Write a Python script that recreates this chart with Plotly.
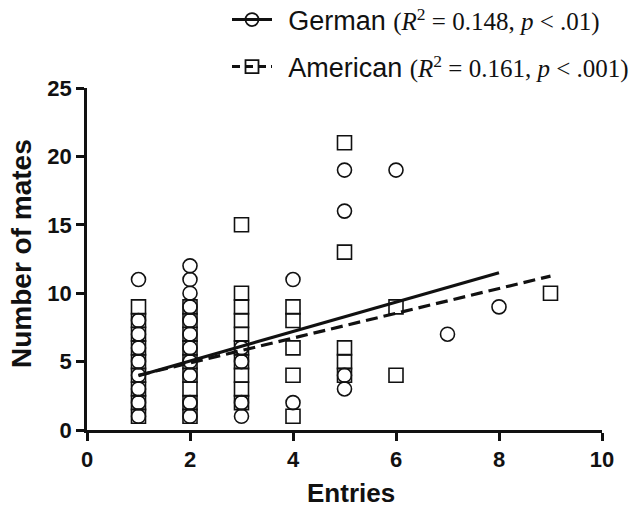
import plotly.graph_objects as go

# ---- data ----
german_entries = [1]*9 + [2]*11 + [3]*4 + [4]*2 + [5]*4 + [6, 7, 8]
german_mates = [1, 2, 3, 4, 5, 6, 7, 8, 11,
                1, 2, 4, 5, 6, 7, 8, 9, 10, 11, 12,
                1, 2, 5, 6,
                2, 11,
                3, 4, 16, 19,
                19, 7, 9]

american_entries = [1]*9 + [2]*9 + [3]*10 + [4]*5 + [5]*5 + [6]*2 + [9]
american_mates = [1, 2, 3, 4, 5, 6, 7, 8, 9,
                  1, 2, 3, 4, 5, 6, 7, 8, 9,
                  2, 3, 4, 5, 6, 7, 8, 9, 10, 15,
                  1, 4, 6, 8, 9,
                  4, 5, 6, 13, 21,
                  4, 9,
                  10]

german_fit_x = [1, 8]
german_fit_y = [3.97, 11.5]
american_fit_x = [1, 9]
american_fit_y = [4.0, 11.25]

x_ticks = [0, 2, 4, 6, 8, 10]
y_ticks = [0, 5, 10, 15, 20, 25]

SERIF = "'Liberation Serif', 'Times New Roman', serif"
GAP = '<span style="font-size:20px">&nbsp;&nbsp;</span>'
german_label = (GAP + 'German <span style="font-family:' + SERIF + '; font-size:25px">'
                '(<i>R</i><sup>2</sup> = 0.148, <i>p</i> &lt; .01)</span>')
american_label = (GAP + 'American <span style="font-family:' + SERIF + '; font-size:25px">'
                  '(<i>R</i><sup>2</sup> = 0.161, <i>p</i> &lt; .001)</span>')

BLACK = "#111111"
SANS = "Liberation Sans, Arial, Helvetica, sans-serif"

fig = go.Figure()

fig.add_trace(go.Scatter(
    x=american_entries, y=american_mates, mode="markers",
    marker=dict(symbol="square-open", size=14, color=BLACK, line=dict(width=1.6, color=BLACK)),
    showlegend=False, cliponaxis=False))
fig.add_trace(go.Scatter(
    x=german_entries, y=german_mates, mode="markers",
    marker=dict(symbol="circle-open", size=14, color=BLACK, line=dict(width=1.6, color=BLACK)),
    showlegend=False, cliponaxis=False))

fig.add_trace(go.Scatter(
    x=german_fit_x, y=german_fit_y, mode="lines",
    line=dict(color=BLACK, width=3.2), showlegend=False))
fig.add_trace(go.Scatter(
    x=american_fit_x, y=american_fit_y, mode="lines",
    line=dict(color=BLACK, width=3.2, dash="12px,6px"), showlegend=False))

# legend-only entries
fig.add_trace(go.Scatter(
    x=[None], y=[None], mode="lines+markers", name=german_label,
    line=dict(color=BLACK, width=3),
    marker=dict(symbol="circle-open", size=13, color=BLACK, line=dict(width=1.8)),
    legend="legend"))
fig.add_trace(go.Scatter(
    x=[None], y=[None], mode="lines+markers", name=american_label,
    line=dict(color=BLACK, width=3, dash="8px,5px"),
    marker=dict(symbol="square-open", size=13, color=BLACK, line=dict(width=1.8)),
    legend="legend2"))

legend_common = dict(
    xref="container", yref="container", xanchor="left", yanchor="middle",
    font=dict(family=SANS, size=27, color=BLACK),
    bgcolor="rgba(0,0,0,0)", borderwidth=0, itemwidth=40,
)

fig.update_layout(
    width=637, height=508,
    margin=dict(l=79, r=43, t=80, b=86, autoexpand=False),
    paper_bgcolor="white", plot_bgcolor="white",
    font=dict(family=SANS, color=BLACK),
    legend=dict(x=219/637, y=1-12/508, **legend_common),
    legend2=dict(x=219/637, y=1-59/508, **legend_common),
    xaxis=dict(
        range=[0, 10], tickvals=x_ticks, ticktext=[str(v) for v in x_ticks],
        showgrid=False, zeroline=False, showline=True, linecolor=BLACK, linewidth=2.6,
        ticks="outside", ticklen=8, tickwidth=2.6, tickcolor=BLACK,
        tickfont=dict(family=SANS, size=22, color=BLACK, weight="bold"),
    ),
    yaxis=dict(
        range=[0, 25], tickvals=y_ticks, ticktext=[str(v) for v in y_ticks],
        showgrid=False, zeroline=False, showline=True, linecolor=BLACK, linewidth=2.6,
        ticks="outside", ticklen=8, tickwidth=2.6, tickcolor=BLACK,
        tickfont=dict(family=SANS, size=22, color=BLACK, weight="bold"),
    ),
    annotations=[
        dict(text="Entries", xref="paper", yref="paper", x=0.5126, y=-0.184,
             xanchor="center", yanchor="middle", showarrow=False,
             font=dict(family=SANS, size=26, color=BLACK, weight="bold")),
        dict(text="Number of mates", xref="paper", yref="paper", x=-0.126, y=0.515,
             xanchor="center", yanchor="middle", showarrow=False, textangle=-90,
             font=dict(family=SANS, size=28, color=BLACK, weight="bold")),
    ],
)

fig.write_html("out.html")
